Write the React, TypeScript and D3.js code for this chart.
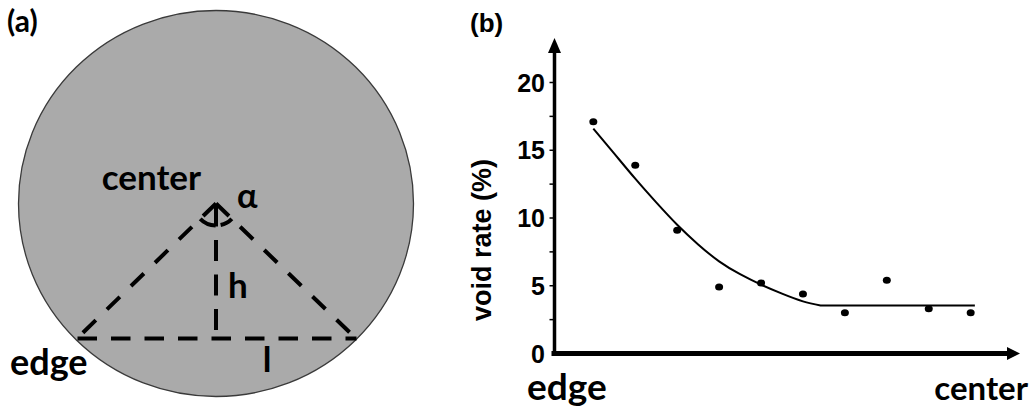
import React from "react";
import * as d3 from "d3";

// ---- Data (panel b) ----
const positions = [1, 2, 3, 4, 5, 6, 7, 8, 9, 10];
const voidRate = [17.1, 13.9, 9.1, 4.9, 5.2, 4.4, 3.0, 5.4, 3.3, 3.0];
// trend line: curved part, then flat plateau
const fitCurveX = [1, 1.5, 2, 2.5, 3, 3.5, 4, 4.5, 5, 5.5, 6, 6.42];
const fitCurveY = [16.6, 14.75, 12.9, 11.15, 9.5, 8.05, 6.8, 5.85, 5.08, 4.42, 3.85, 3.55];
const plateauEndX = 10.1;
const plateauY = 3.55;
const yTicks = [0, 5, 10, 15, 20];
const yMinorTicks = [2.5, 5, 7.5, 10, 12.5, 15, 17.5, 20];

const W = 1034;
const H = 409;

export default function App() {
  const x = d3.scaleLinear().domain([0, 11]).range([551.4, 1012.6]);
  const y = d3.scaleLinear().domain([0, 20]).range([353.5, 82.5]);
  const axX = 554.5;
  const axY = 353.5;
  const xEnd = 1020;
  const yEnd = 38;

  const curvePart = d3
    .line<number>()
    .x((_, i) => x(fitCurveX[i]))
    .y((d) => y(d))
    .curve(d3.curveNatural)(fitCurveY) as string;
  const fitLine = `${curvePart}L${x(plateauEndX)},${y(plateauY)}`;

  // panel a geometry
  const cx = 216;
  const cy = 203.5;
  const apex: [number, number] = [216, 203.5];
  const baseY = 338.5;
  const baseL = 77.5;
  const baseR = 356.5;
  const leftFoot: [number, number] = [78.5, 337];
  const rightFoot: [number, number] = [355, 337.5];
  const arcR = 22;
  const angL = Math.atan2(leftFoot[1] - apex[1], leftFoot[0] - apex[0]);
  const angR = Math.atan2(rightFoot[1] - apex[1], rightFoot[0] - apex[0]);
  const arcPath = d3.path();
  arcPath.arc(apex[0], apex[1], arcR, angR, angL, false);

  const dash = { stroke: "#000", strokeWidth: 4, fill: "none" } as const;
  const latoB = { fontFamily: "Lato, 'DejaVu Sans', sans-serif", fontWeight: 700 } as const;
  const axFont = { fontFamily: "'Liberation Sans', Arial, sans-serif", fontWeight: 700 } as const;

  return (
    <svg
      width={W}
      height={H}
      style={{ position: "absolute", left: 0, top: 0, background: "#fff" }}
    >
      {/* ---------- Panel (a) ---------- */}
      <ellipse cx={cx} cy={cy} rx={197.5} ry={193} fill="#aaaaaa" stroke="#3a3a3a" strokeWidth={1.3} />
      <text x={7} y={32} fontSize={30} {...latoB}>(a)</text>
      <line x1={apex[0]} y1={apex[1]} x2={leftFoot[0]} y2={leftFoot[1]} {...dash} strokeDasharray="18 15.5" />
      <line x1={apex[0]} y1={apex[1]} x2={rightFoot[0]} y2={rightFoot[1]} {...dash} strokeDasharray="18 15.5" />
      <line x1={apex[0]} y1={apex[1] + 2} x2={apex[0]} y2={baseY} {...dash} strokeDasharray="21 13.5" />
      <line x1={baseL} y1={baseY} x2={baseR} y2={baseY} {...dash} strokeDasharray="19.5 14" />
      <path d={arcPath.toString()} {...dash} strokeDasharray="13 5 100" />
      <text x={101.7} y={190} fontSize={35} {...latoB}>center</text>
      <text x={237} y={208} fontSize={34} {...latoB}>α</text>
      <text x={228} y={298} fontSize={35} {...latoB}>h</text>
      <text x={267} y={372} fontSize={35} textAnchor="middle" {...latoB}>l</text>
      <text x={10} y={375} fontSize={36} {...latoB}>edge</text>

      {/* ---------- Panel (b) ---------- */}
      <text x={470} y={32} fontSize={26} {...axFont}>(b)</text>

      {/* y minor ticks */}
      {yMinorTicks.map((t) => (
        <line key={t} x1={axX - 5} x2={axX} y1={y(t)} y2={y(t)} stroke="#000" strokeWidth={1.5} />
      ))}
      {/* y tick labels */}
      {yTicks.map((t) => (
        <text key={t} x={545} y={y(t)} dy="0.36em" textAnchor="end" fontSize={25} {...axFont}>
          {t}
        </text>
      ))}
      {/* axes */}
      <line x1={axX} x2={axX} y1={axY + 2.5} y2={yEnd + 12} stroke="#000" strokeWidth={3.5} />
      <path d={`M${axX},${yEnd} L${axX - 6.5},${yEnd + 15} L${axX + 6.5},${yEnd + 15} Z`} fill="#000" />
      <line x1={axX - 3} x2={xEnd - 10} y1={axY} y2={axY} stroke="#000" strokeWidth={5} />
      <path d={`M${xEnd},${axY} L${xEnd - 13},${axY - 6.5} L${xEnd - 13},${axY + 6.5} Z`} fill="#000" />

      {/* fit line */}
      <path d={fitLine} fill="none" stroke="#000" strokeWidth={2} />
      {/* data points */}
      {positions.map((p, i) => (
        <ellipse key={p} cx={x(p)} cy={y(voidRate[i])} rx={4} ry={3.5} fill="#000" />
      ))}

      <text
        transform={`translate(491,240) rotate(-90)`}
        textAnchor="middle"
        fontSize={27}
        {...axFont}
      >
        void rate (%)
      </text>
      <text x={527} y={400} fontSize={37} {...latoB}>edge</text>
      <text x={1028} y={400} fontSize={33} textAnchor="end" {...latoB}>center</text>
    </svg>
  );
}
